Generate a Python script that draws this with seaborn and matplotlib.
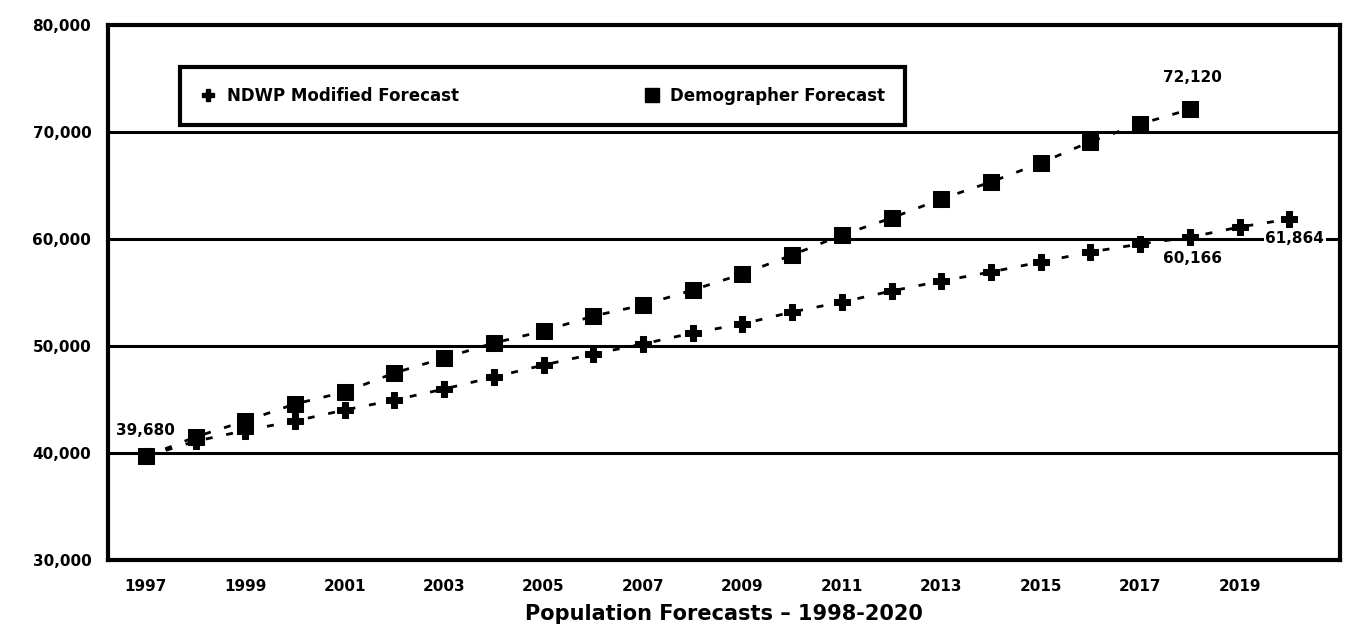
import matplotlib
matplotlib.use("Agg")
import matplotlib.pyplot as plt
import seaborn as sns
import pandas as pd
from matplotlib.lines import Line2D

# ---- data ----
years_ndwp = list(range(1997, 2021))
ndwp_values = [39680, 41100, 42100, 42990, 44020, 44950, 45980, 47100, 48220,
               49250, 50190, 51215, 52060, 53180, 54110, 55140, 56070, 56920,
               57850, 58785, 59530, 60166, 61120, 61864]
years_demo = list(range(1997, 2019))
demo_values = [39680, 41500, 42990, 44580, 45700, 47480, 48880, 50280, 51400,
               52800, 53830, 55230, 56730, 58500, 60370, 61960, 63740, 65330,
               67100, 69100, 70750, 72120]
series_names = ["NDWP Modified Forecast", "Demographer Forecast"]
xtick_years = list(range(1997, 2020, 2))
ytick_values = [30000, 40000, 50000, 60000, 70000, 80000]
title_text = "Population Forecasts \u2013 1998-2020"
annotations = [(1997, 39680, "39,680"), (2018, 72120, "72,120"),
               (2018, 60166, "60,166"), (2020, 61864, "61,864")]

df_ndwp = pd.DataFrame({"year": years_ndwp, "pop": ndwp_values})
df_demo = pd.DataFrame({"year": years_demo, "pop": demo_values})

sns.set_style("white")
plt.rcParams["font.family"] = ["DejaVu Sans"]
for k in ["text.color", "axes.labelcolor", "xtick.color", "ytick.color"]:
    plt.rcParams[k] = "black"

W, H = 1346, 627
fig = plt.figure(figsize=(W / 100, H / 100), dpi=100)
ax = fig.add_axes([108 / W, 1 - 560 / H, (1340 - 108) / W, (560 - 25) / H])

# gridlines
for v in ytick_values[1:-1]:
    ax.axhline(v, color="black", lw=2.2, zorder=1)

dash = (0, (2.5, 5))
sns.lineplot(data=df_demo, x="year", y="pop", ax=ax, color="black",
             linestyle=dash, lw=2, marker="s", markersize=11,
             markeredgecolor="black", markerfacecolor="black", zorder=3)
sns.lineplot(data=df_ndwp, x="year", y="pop", ax=ax, color="black",
             linestyle=dash, lw=2, marker="P", markersize=11,
             markeredgecolor="black", markerfacecolor="black", zorder=3)

ax.set_xlim(1996.24, 2021.02)
ax.set_ylim(30000, 80000)
ax.set_xticks(xtick_years)
ax.set_xticklabels([str(y) for y in xtick_years], fontsize=11, fontweight="bold")
ax.set_yticks(ytick_values)
ax.set_yticklabels([f"{v:,}" for v in ytick_values], fontsize=11, fontweight="bold")
ax.tick_params(axis="both", length=0)
ax.tick_params(axis="y", pad=12)
ax.tick_params(axis="x", pad=14)
ax.set_xlabel(title_text, fontsize=15, fontweight="bold", labelpad=7)
ax.set_ylabel("")

for s in ax.spines.values():
    s.set_visible(True)
    s.set_color("black")
    s.set_linewidth(3)

# value labels (offsets in points)
offsets = {"39,680": (0, 19), "72,120": (2, 23),
           "60,166": (2, -15), "61,864": (4, -14)}
for yr, val, txt in annotations:
    dx, dy = offsets[txt]
    ax.annotate(txt, (yr, val), xytext=(dx, dy), textcoords="offset points",
                ha="center", va="center", fontsize=11, fontweight="bold",
                color="black", zorder=4,
                bbox=dict(boxstyle="square,pad=0.1", fc="white", ec="none"))

handles = [Line2D([], [], color="black", marker="P", markersize=9, linestyle="none"),
           Line2D([], [], color="black", marker="s", markersize=10, linestyle="none")]
leg = ax.legend(handles, series_names, loc="upper left",
                bbox_to_anchor=((180 - 108) / 1232, (560 - 67) / 535),
                ncol=2, fontsize=12, frameon=True, fancybox=False,
                handlelength=1.0, handletextpad=0.6, columnspacing=11.1,
                borderpad=1.2, borderaxespad=0)
for t in leg.get_texts():
    t.set_fontweight("bold")
    t.set_color("black")
leg.get_frame().set_edgecolor("black")
leg.get_frame().set_linewidth(3)
leg.get_frame().set_alpha(1)

fig.savefig("out.png", dpi=100, facecolor="white")
